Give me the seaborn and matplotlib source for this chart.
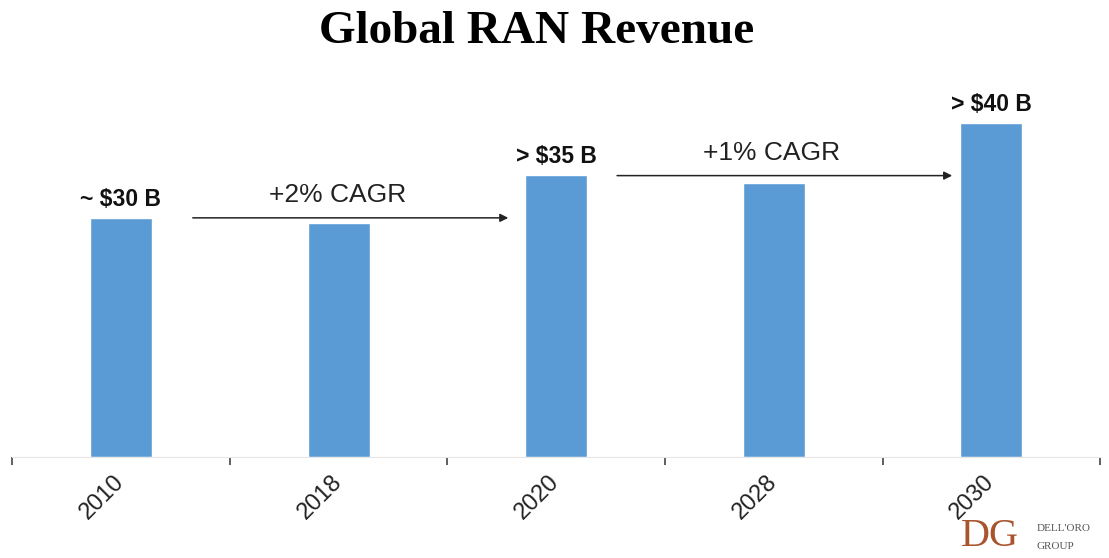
import pandas as pd
import seaborn as sns
import matplotlib.pyplot as plt
from matplotlib.transforms import ScaledTranslation

# data ($B)
years = ["2010", "2018", "2020", "2028", "2030"]
revenue = [30.0, 29.4, 35.4, 34.4, 41.9]
value_labels = ["~ $30 B", "", "> $35 B", "", "> $40 B"]
cagr_labels = ["+2% CAGR", "+1% CAGR"]
cagr_spans = [(0.33, 1.78, 30.0), (2.28, 3.82, 35.3)]

df = pd.DataFrame({"year": years, "revenue": revenue})

sns.set_theme(style="white")
plt.rcParams["font.family"] = ["Liberation Sans", "DejaVu Sans"]

fig = plt.figure(figsize=(11.09, 5.58), dpi=100)
ax = fig.add_axes([0.011, 0.181, 0.981, 0.64])

sns.barplot(data=df, x="year", y="revenue", color="#5B9BD5", saturation=1,
            width=0.285, ax=ax)

ax.bar_label(ax.containers[0], labels=value_labels, padding=5,
             fontsize=16.5, fontweight="bold", color="#111111")

# CAGR arrows
for label, (x0, x1, y) in zip(cagr_labels, cagr_spans):
    ax.annotate("", xy=(x1, y), xytext=(x0, y),
                arrowprops=dict(arrowstyle="-|>", color="#222222", lw=1.1,
                                mutation_scale=12, shrinkA=0, shrinkB=0))
    ax.text((x0 + x1) / 2 - 0.06, y + 1.3, label, ha="center", va="bottom",
            fontsize=19, color="#222222")

ax.set_xlim(-0.5, 4.5)
ax.set_ylim(0, 44.8)
ax.set_xlabel("")
ax.set_ylabel("")
ax.set_yticks([])

ax.set_xticks(range(len(years)))
ax.set_xticklabels(years, rotation=45, ha="right", rotation_mode="anchor",
                   fontsize=17, color="#222222")
ax.tick_params(axis="x", which="major", length=0, pad=10)
shift = ScaledTranslation(-8 / 100, 0, fig.dpi_scale_trans)
for lbl in ax.get_xticklabels():
    lbl.set_transform(lbl.get_transform() + shift)
ax.set_xticks([i - 0.5 for i in range(len(years) + 1)], minor=True)
ax.tick_params(axis="x", which="minor", length=6, width=1.2, color="#444444",
               bottom=True)

for side in ["top", "right", "left"]:
    ax.spines[side].set_visible(False)
ax.spines["bottom"].set_color("#e6e6e6")
ax.spines["bottom"].set_linewidth(0.8)

fig.text(0.484, 0.943, "Global RAN Revenue", ha="center", va="center",
         fontsize=34, fontweight="bold", family="Liberation Serif",
         color="black")

# Dell'Oro logo
fig.text(0.893, 0.005, "DG", fontsize=29, family="Liberation Serif",
         color="#A8552E", ha="center", va="bottom")
fig.text(0.935, 0.052, "DELL'ORO", fontsize=8, family="Liberation Serif",
         color="#555555", ha="left", va="center")
fig.text(0.935, 0.02, "GROUP", fontsize=8, family="Liberation Serif",
         color="#555555", ha="left", va="center")

fig.savefig("out.png", dpi=100, facecolor="white")
